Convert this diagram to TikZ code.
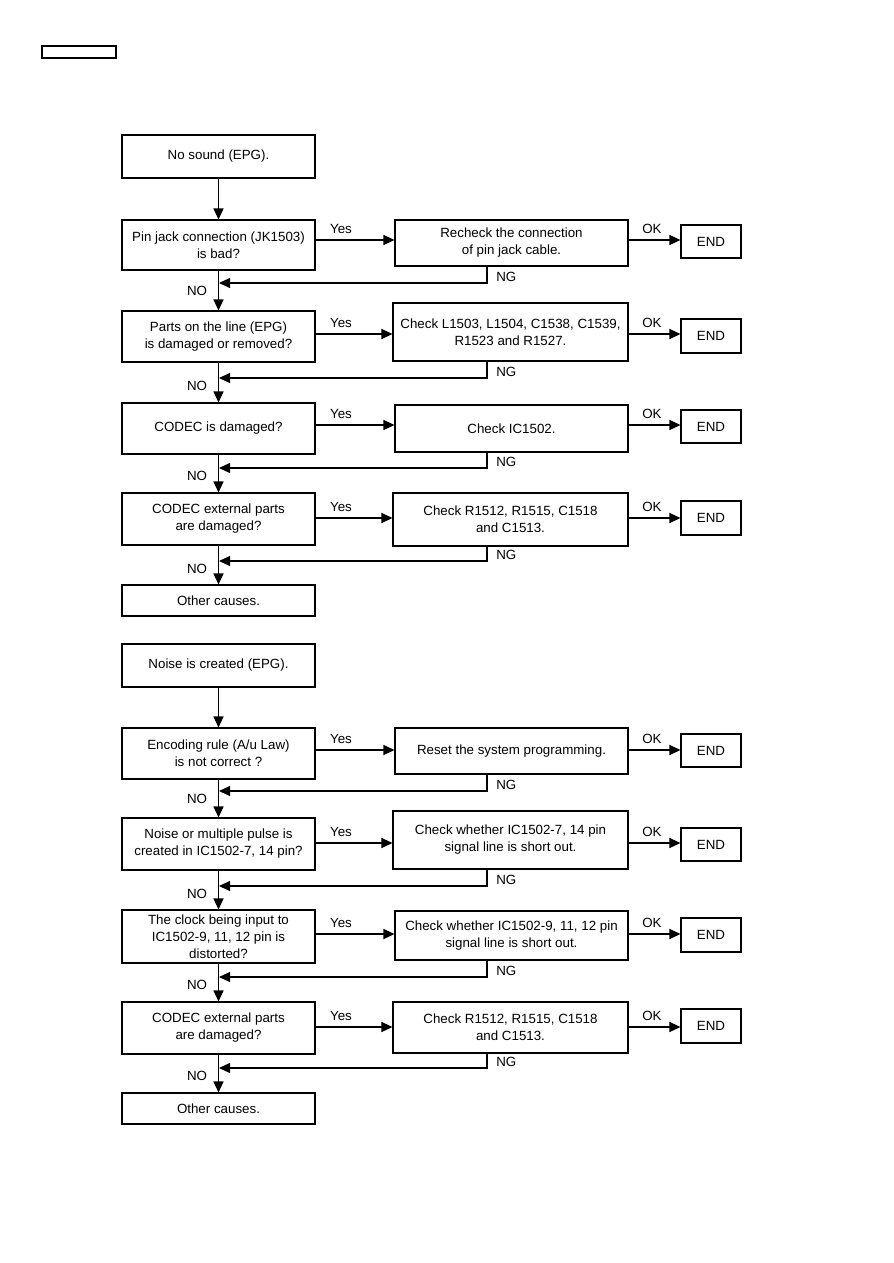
\documentclass[tikz,border=0pt]{standalone}
\usepackage{fontspec}
\setmainfont{Liberation Sans}
\usetikzlibrary{arrows.meta}
\tikzset{
  box/.style={draw, line width=0.8pt, inner sep=0pt, align=center, font=\fontsize{10}{12.75}\selectfont},
  lbl/.style={inner sep=0pt, font=\fontsize{10}{12}\selectfont},
  arr/.style={line width=0.8pt, -{Triangle[length=8.25pt,width=7.5pt]}},
  ln/.style={line width=0.8pt}
}
\newcommand\Bx[6]{\node[box, minimum width={(#4-#2)*0.75pt}, minimum height={(#5-#3)*0.75pt}] (#1) at ({(#2+#4)/2},{(#3+#5)/2}) {#6};}
% row: #1 index, #2 left top, #3 left bottom, #4 mid left x, #5 mid top, #6 mid bottom, #7 end top, #8 end bottom, #9 arrow y
\newcommand\Row[9]{%
  \draw[arr] (L#1.east |- 0,#9) -- (M#1.west |- 0,#9);
  \node[lbl] (Y#1) at (341,#9-11) {Yes};
  \draw[arr] (M#1.east |- 0,#9) -- (E#1.west |- 0,#9);
  \node[lbl] (K#1) at (652,#9-11) {OK};
}
\begin{document}
\begin{tikzpicture}[x=0.75pt,y=-0.75pt]
\useasboundingbox (0,0) rectangle (893,1263);
\node[draw, line width=0.8pt, minimum width={74*0.75pt}, minimum height={12*0.75pt}, inner sep=0pt] (hdr) at (79,52) {};

% ---------- chart 1 ----------
\Bx{S1}{122}{135}{315}{178}{No sound (EPG).}
\Bx{L1}{122}{220}{315}{270}{Pin jack connection (JK1503)\\is bad?}
\Bx{M1}{395}{220}{628}{266}{Recheck the connection\\of pin jack cable.}
\Bx{E1}{681}{225}{741}{258}{END}
\Bx{L2}{122}{311}{315}{362}{Parts on the line (EPG)\\is damaged or removed?}
\Bx{M2}{393}{303}{628}{361}{Check L1503, L1504, C1538, C1539,\\R1523 and R1527.}
\Bx{E2}{681}{319}{741}{353}{END}
\Bx{L3}{122}{403}{315}{454}{CODEC is damaged?}
\Bx{M3}{395}{405}{628}{452}{Check IC1502.}
\Bx{E3}{681}{410}{741}{443}{END}
\Bx{L4}{122}{493}{315}{545}{CODEC external parts\\are damaged?}
\Bx{M4}{393}{493}{628}{546}{Check R1512, R1515, C1518\\and C1513.}
\Bx{E4}{681}{501}{741}{535}{END}
\Bx{O1}{122}{585}{315}{616}{Other causes.}

% ---------- chart 2 ----------
\Bx{S2}{122}{644}{315}{687}{Noise is created (EPG).}
\Bx{L5}{122}{728}{315}{779}{Encoding rule (A/u Law)\\is not correct ?}
\Bx{M5}{395}{728}{628}{774}{Reset the system programming.}
\Bx{E5}{681}{734}{741}{767}{END}
\Bx{L6}{122}{818}{315}{870}{Noise or multiple pulse is\\created in IC1502-7, 14 pin?}
\Bx{M6}{393}{811}{628}{869}{Check whether IC1502-7, 14 pin\\signal line is short out.}
\Bx{E6}{681}{828}{741}{861}{END}
\Bx{L7}{122}{910}{315}{963}{The clock being input to\\IC1502-9, 11, 12 pin is\\distorted?}
\Bx{M7}{395}{911}{628}{960}{Check whether IC1502-9, 11, 12 pin\\signal line is short out.}
\Bx{E7}{681}{918}{741}{952}{END}
\Bx{L8}{122}{1002}{315}{1054}{CODEC external parts\\are damaged?}
\Bx{M8}{393}{1002}{628}{1053}{Check R1512, R1515, C1518\\and C1513.}
\Bx{E8}{681}{1009}{741}{1043}{END}
\Bx{O2}{122}{1093}{315}{1124}{Other causes.}

% horizontal Yes / OK arrows
\Row{1}{}{}{}{}{}{}{}{240}
\Row{2}{}{}{}{}{}{}{}{334}
\Row{3}{}{}{}{}{}{}{}{425}
\Row{4}{}{}{}{}{}{}{}{518}
\Row{5}{}{}{}{}{}{}{}{750}
\Row{6}{}{}{}{}{}{}{}{843}
\Row{7}{}{}{}{}{}{}{}{934}
\Row{8}{}{}{}{}{}{}{}{1027}

% vertical arrows
\draw[arr] (S1) -- (L1);
\draw[arr] (L1) -- (L2);
\draw[arr] (L2) -- (L3);
\draw[arr] (L3) -- (L4);
\draw[arr] (L4) -- (O1);
\draw[arr] (S2) -- (L5);
\draw[arr] (L5) -- (L6);
\draw[arr] (L6) -- (L7);
\draw[arr] (L7) -- (L8);
\draw[arr] (L8) -- (O2);

% NG return lines and labels
\foreach \i/\y in {1/283,2/378,3/468,4/561,5/791,6/886,7/977,8/1068}{
  \coordinate (n\i) at (219,\y);
  \draw[arr] (M\i.south -| 487,0) |- (n\i);
  \node[lbl, anchor=west] (g\i) at (496,\y-6) {NG};
  \node[lbl] (o\i) at (197,\y+8) {NO};
}
\end{tikzpicture}
\end{document}
